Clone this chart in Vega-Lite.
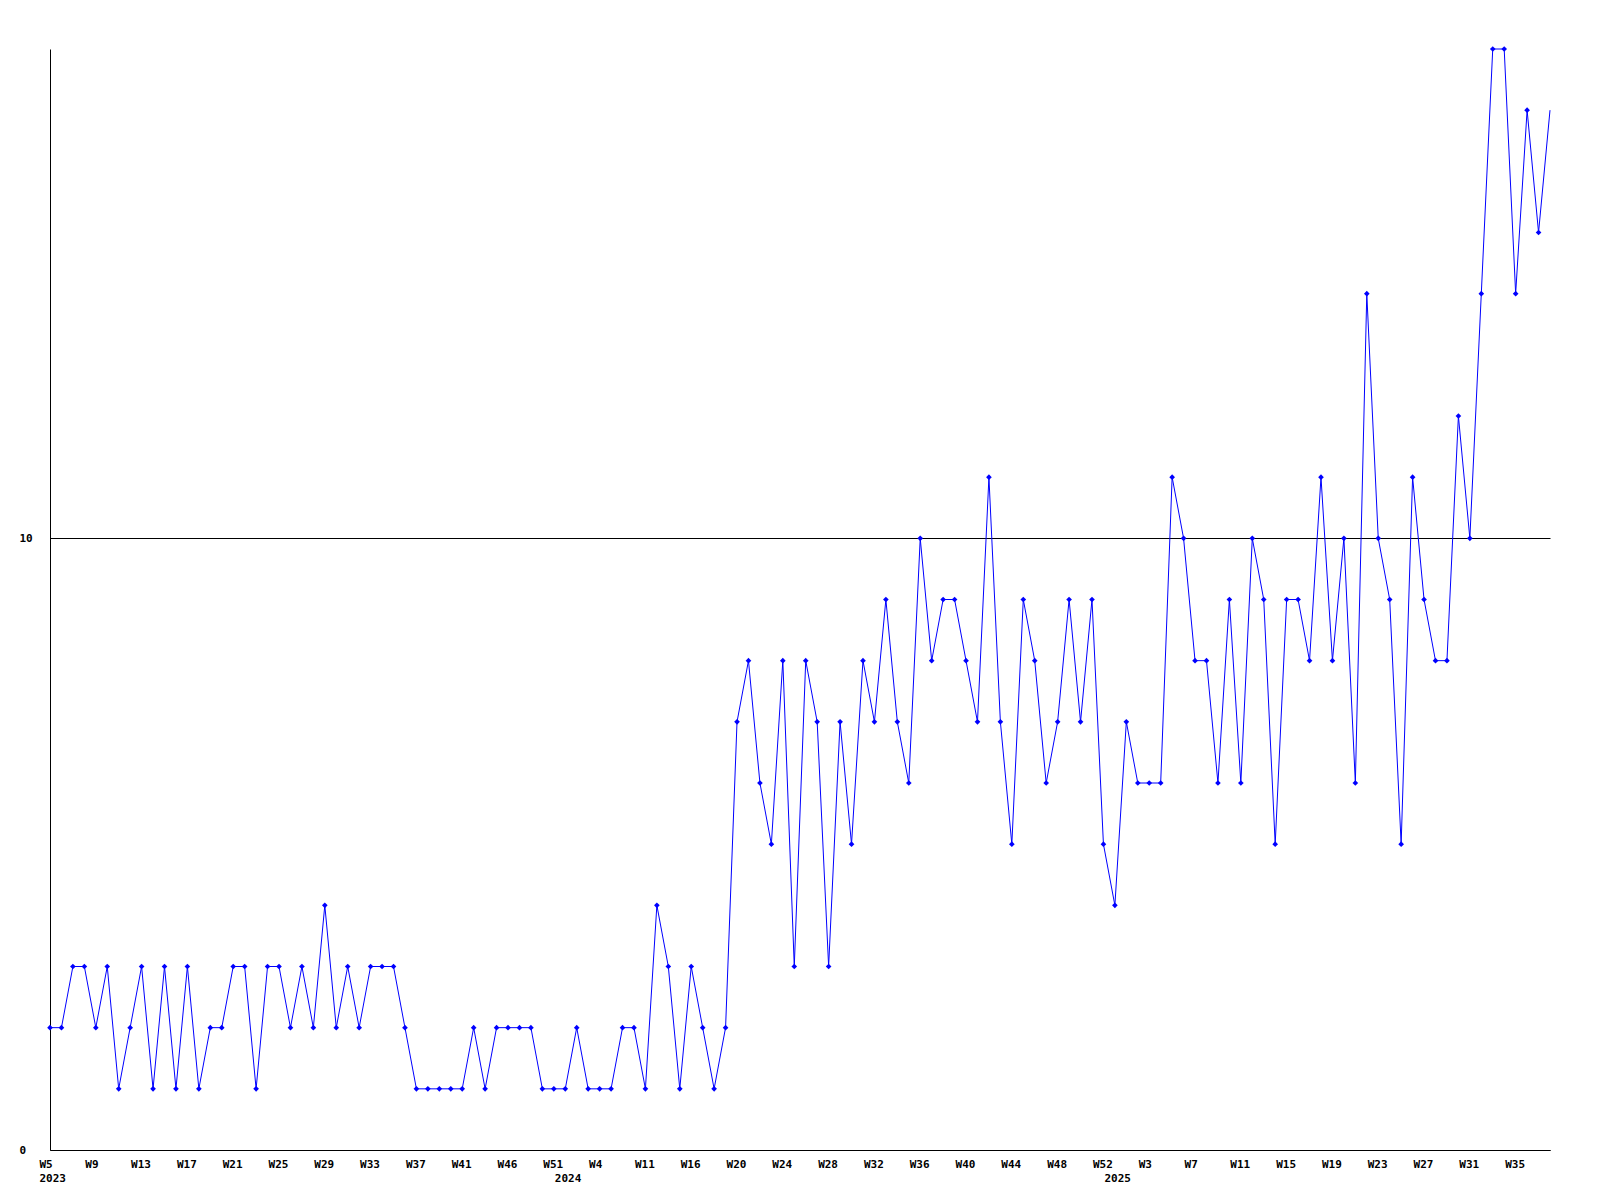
{
  "$schema": "https://vega.github.io/schema/vega-lite/v6.json",
  "width": 1500,
  "height": 1101,
  "autosize": "none",
  "padding": {"left": 50, "top": 49, "right": 50, "bottom": 50},
  "background": "white",
  "config": {
    "view": {"stroke": null},
    "axis": {
      "labelFont": "DejaVu Sans Mono",
      "labelFontWeight": "bold",
      "labelFontSize": 11,
      "labelColor": "black",
      "domainColor": "black",
      "domainWidth": 1,
      "grid": false,
      "ticks": false,
      "tickSize": 0,
      "title": null
    }
  },
  "data": {
    "values": [
      {"week": "2023-W05", "count": 2}, {"week": "2023-W06", "count": 2}, {"week": "2023-W07", "count": 3}, {"week": "2023-W08", "count": 3},
      {"week": "2023-W09", "count": 2}, {"week": "2023-W10", "count": 3}, {"week": "2023-W11", "count": 1}, {"week": "2023-W12", "count": 2},
      {"week": "2023-W13", "count": 3}, {"week": "2023-W14", "count": 1}, {"week": "2023-W15", "count": 3}, {"week": "2023-W16", "count": 1},
      {"week": "2023-W17", "count": 3}, {"week": "2023-W18", "count": 1}, {"week": "2023-W19", "count": 2}, {"week": "2023-W20", "count": 2},
      {"week": "2023-W21", "count": 3}, {"week": "2023-W22", "count": 3}, {"week": "2023-W23", "count": 1}, {"week": "2023-W24", "count": 3},
      {"week": "2023-W25", "count": 3}, {"week": "2023-W26", "count": 2}, {"week": "2023-W27", "count": 3}, {"week": "2023-W28", "count": 2},
      {"week": "2023-W29", "count": 4}, {"week": "2023-W30", "count": 2}, {"week": "2023-W31", "count": 3}, {"week": "2023-W32", "count": 2},
      {"week": "2023-W33", "count": 3}, {"week": "2023-W34", "count": 3}, {"week": "2023-W35", "count": 3}, {"week": "2023-W36", "count": 2},
      {"week": "2023-W37", "count": 1}, {"week": "2023-W38", "count": 1}, {"week": "2023-W39", "count": 1}, {"week": "2023-W40", "count": 1},
      {"week": "2023-W41", "count": 1}, {"week": "2023-W42", "count": 2}, {"week": "2023-W43", "count": 1}, {"week": "2023-W44", "count": 2},
      {"week": "2023-W46", "count": 2}, {"week": "2023-W47", "count": 2}, {"week": "2023-W48", "count": 2}, {"week": "2023-W49", "count": 1},
      {"week": "2023-W51", "count": 1}, {"week": "2024-W00", "count": 1}, {"week": "2024-W01", "count": 2}, {"week": "2024-W03", "count": 1},
      {"week": "2024-W04", "count": 1}, {"week": "2024-W06", "count": 1}, {"week": "2024-W08", "count": 2}, {"week": "2024-W10", "count": 2},
      {"week": "2024-W11", "count": 1}, {"week": "2024-W12", "count": 4}, {"week": "2024-W13", "count": 3}, {"week": "2024-W15", "count": 1},
      {"week": "2024-W16", "count": 3}, {"week": "2024-W17", "count": 2}, {"week": "2024-W18", "count": 1}, {"week": "2024-W19", "count": 2},
      {"week": "2024-W20", "count": 7}, {"week": "2024-W21", "count": 8}, {"week": "2024-W22", "count": 6}, {"week": "2024-W23", "count": 5},
      {"week": "2024-W24", "count": 8}, {"week": "2024-W25", "count": 3}, {"week": "2024-W26", "count": 8}, {"week": "2024-W27", "count": 7},
      {"week": "2024-W28", "count": 3}, {"week": "2024-W29", "count": 7}, {"week": "2024-W30", "count": 5}, {"week": "2024-W31", "count": 8},
      {"week": "2024-W32", "count": 7}, {"week": "2024-W33", "count": 9}, {"week": "2024-W34", "count": 7}, {"week": "2024-W35", "count": 6},
      {"week": "2024-W36", "count": 10}, {"week": "2024-W37", "count": 8}, {"week": "2024-W38", "count": 9}, {"week": "2024-W39", "count": 9},
      {"week": "2024-W40", "count": 8}, {"week": "2024-W41", "count": 7}, {"week": "2024-W42", "count": 11}, {"week": "2024-W43", "count": 7},
      {"week": "2024-W44", "count": 5}, {"week": "2024-W45", "count": 9}, {"week": "2024-W46", "count": 8}, {"week": "2024-W47", "count": 6},
      {"week": "2024-W48", "count": 7}, {"week": "2024-W49", "count": 9}, {"week": "2024-W50", "count": 7}, {"week": "2024-W51", "count": 9},
      {"week": "2024-W52", "count": 5}, {"week": "2025-W00", "count": 4}, {"week": "2025-W01", "count": 7}, {"week": "2025-W02", "count": 6},
      {"week": "2025-W03", "count": 6}, {"week": "2025-W04", "count": 6}, {"week": "2025-W05", "count": 11}, {"week": "2025-W06", "count": 10},
      {"week": "2025-W07", "count": 8}, {"week": "2025-W08", "count": 8}, {"week": "2025-W09", "count": 6}, {"week": "2025-W10", "count": 9},
      {"week": "2025-W11", "count": 6}, {"week": "2025-W12", "count": 10}, {"week": "2025-W13", "count": 9}, {"week": "2025-W14", "count": 5},
      {"week": "2025-W15", "count": 9}, {"week": "2025-W16", "count": 9}, {"week": "2025-W17", "count": 8}, {"week": "2025-W18", "count": 11},
      {"week": "2025-W19", "count": 8}, {"week": "2025-W20", "count": 10}, {"week": "2025-W21", "count": 6}, {"week": "2025-W22", "count": 14},
      {"week": "2025-W23", "count": 10}, {"week": "2025-W24", "count": 9}, {"week": "2025-W25", "count": 5}, {"week": "2025-W26", "count": 11},
      {"week": "2025-W27", "count": 9}, {"week": "2025-W28", "count": 8}, {"week": "2025-W29", "count": 8}, {"week": "2025-W30", "count": 12},
      {"week": "2025-W31", "count": 10}, {"week": "2025-W32", "count": 14}, {"week": "2025-W33", "count": 18}, {"week": "2025-W34", "count": 18},
      {"week": "2025-W35", "count": 14}, {"week": "2025-W36", "count": 17}, {"week": "2025-W37", "count": 15}, {"week": "2025-W38", "count": 17}
    ]
  },
  "layer": [
    {
      "mark": {"type": "line", "color": "#0000ff", "strokeWidth": 1},
      "encoding": {
        "x": {
          "field": "week",
          "type": "ordinal",
          "scale": {"type": "point", "padding": 0},
          "axis": {
            "orient": "bottom",
            "values": ["2023-W05", "2023-W09", "2023-W13", "2023-W17", "2023-W21", "2023-W25", "2023-W29", "2023-W33", "2023-W37", "2023-W41", "2023-W46", "2023-W51", "2024-W04", "2024-W11", "2024-W16", "2024-W20", "2024-W24", "2024-W28", "2024-W32", "2024-W36", "2024-W40", "2024-W44", "2024-W48", "2024-W52", "2025-W03", "2025-W07", "2025-W11", "2025-W15", "2025-W19", "2025-W23", "2025-W27", "2025-W31", "2025-W35"],
            "labelExpr": "'W' + toNumber(slice(datum.value, 6))",
            "labelAngle": 0,
            "labelAlign": "left",
            "labelBaseline": "top",
            "labelOffset": -11,
            "labelPadding": 8,
            "labelOverlap": false
          }
        },
        "y": {
          "field": "count",
          "type": "quantitative",
          "scale": {"domain": [0, 18], "nice": false, "zero": true},
          "axis": {
            "values": [0, 10],
            "format": "d",
            "grid": true,
            "gridColor": "black",
            "gridOpacity": 1,
            "gridWidth": 1,
            "labelAlign": "left",
            "labelBaseline": "middle",
            "labelPadding": 31,
            "labelOverlap": false
          }
        }
      }
    },
    {
      "transform": [{"filter": "datum.week != '2025-W38'"}],
      "mark": {"type": "point", "shape": "diamond", "filled": true, "color": "#0000ff", "size": 32, "opacity": 1},
      "encoding": {
        "x": {
          "field": "week",
          "type": "ordinal",
          "axis": {
            "orient": "bottom",
            "values": ["2023-W05", "2024-W00", "2025-W00"],
            "labelExpr": "slice(datum.value, 0, 4)",
            "labelAngle": 0,
            "labelAlign": "left",
            "labelBaseline": "top",
            "labelOffset": -11,
            "labelPadding": 22,
            "domain": false,
            "labelOverlap": false
          }
        },
        "y": {"field": "count", "type": "quantitative"}
      }
    }
  ],
  "resolve": {"axis": {"x": "independent"}}
}
